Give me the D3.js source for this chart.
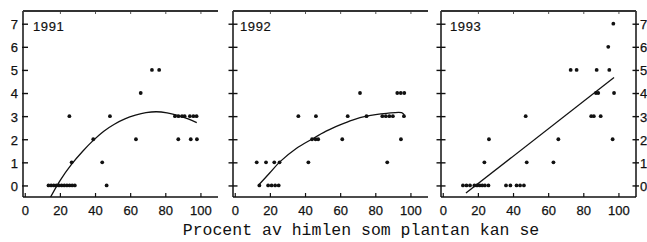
<!DOCTYPE html>
<html><head><meta charset="utf-8">
<script src="https://cdn.jsdelivr.net/npm/d3@7/dist/d3.min.js"></script>
<style>
html,body{margin:0;padding:0;background:#fff;}
svg{display:block;}
.tk text{font-family:"Liberation Sans",Arial,sans-serif;font-size:13px;fill:#111;stroke:#111;stroke-width:0.25;}
</style></head><body>
<svg id="c" width="647" height="242"></svg>
<script>
const years = ["1991", "1992", "1993"];
const xTicks = [0, 20, 40, 60, 80, 100];
const yTicks = [0, 1, 2, 3, 4, 5, 6, 7];
const xLabel = "Procent av himlen som plantan kan se";

const points1991 = [
  [13.5,0],[15,0],[16.5,0],[18,0],[19.5,0],[21,0],[22.5,0],[24,0],[25.5,0],[27,0],[28.5,0],[46.6,0],
  [26.7,1],[44.1,1],
  [39,2],[63.3,2],[87.4,2],[94.5,2],[98,2],
  [25.4,3],[48.5,3],[85.5,3],[87.5,3],[89.5,3],[91,3],[94,3],[96,3],[97.8,3],
  [66,4],
  [72.4,5],[76.5,5]
];
const curve1991 = [[14,-0.6],[20,0.2],[26.7,0.92],[33,1.48],[39,1.95],[45,2.35],[51,2.65],[57,2.88],[63,3.04],[69,3.15],[75,3.19],[81,3.14],[87,3.03],[93,2.88],[97.9,2.72]];

const points1992 = [
  [14,0],[19,0],[21,0],[23,0],[25,0],
  [12.5,1],[17.8,1],[22.5,1],[25.5,1],[41.9,1],[86.8,1],
  [44,2],[46,2],[47.5,2],[61.2,2],[94.6,2],
  [36.2,3],[46.2,3],[64.3,3],[75,3],[84,3],[86,3],[88,3],[90,3],[96.3,3],
  [71.3,4],[92.5,4],[94.5,4],[96.5,4]
];
const curve1992 = [[14,0.05],[20,0.55],[25.8,1.03],[35,1.6],[43.8,2.0],[52,2.35],[59.9,2.62],[67,2.83],[75,3.0],[86.5,3.12],[95,3.15],[96.5,3.05]];

const points1993 = [
  [11.5,0],[13.5,0],[15.5,0],[18,0],[19.5,0],[21,0],[22.5,0],[24,0],[26,0],[36,0],[38.5,0],[42,0],[44,0],[46.2,0],
  [23.7,1],[47.8,1],[63,1],
  [26.3,2],[65.8,2],[96.7,2],
  [47.2,3],[84.5,3],[86,3],[89.9,3],
  [87.2,4],[88.5,4],[97.5,4],
  [72.8,5],[76.2,5],[87.6,5],[94.8,5],
  [94.2,6],
  [97.1,7]
];
const line1993 = [[13.2,-0.33],[97.5,4.67]];

const panels = [
  {year: years[0], pts: points1991, fit: curve1991, left: 23, yl: 10},
  {year: years[1], pts: points1992, fit: curve1992, left: 233, yl: 7},
  {year: years[2], pts: points1993, fit: line1993, left: 441, yl: 9}
];

const svg = d3.select("#c");
const plotTop = 11, plotBottom = 197, pw = 195;
const font = '"Liberation Sans",Arial,sans-serif';

panels.forEach((p, i) => {
  const L = p.left, R = L + pw;
  const x = d3.scaleLinear().domain([-1, 110]).range([L, R]);
  const y = d3.scaleLinear().domain([-0.5, 7.55]).range([plotBottom, plotTop]);
  const g = svg.append("g");

  const clipId = "clip" + i;
  svg.append("clipPath").attr("id", clipId).append("rect")
    .attr("x", L).attr("y", plotTop).attr("width", pw).attr("height", plotBottom - plotTop);

  const bx = g.append("g").attr("class", "tk").attr("transform", `translate(0,${plotBottom})`)
    .call(d3.axisBottom(x).tickValues(xTicks).tickSizeInner(-4).tickSizeOuter(0).tickPadding(9));
  bx.select(".domain").remove();
  bx.selectAll(".tick line").attr("stroke", "#111").attr("stroke-width", 1.2);

  const tx = g.append("g").attr("class", "tk").attr("transform", `translate(0,${plotTop})`)
    .call(d3.axisTop(x).tickValues(xTicks.slice(1)).tickSizeInner(-3).tickSizeOuter(0).tickFormat(""));
  tx.select(".domain").remove();
  tx.selectAll(".tick line").attr("stroke", "#555").attr("stroke-width", 1);

  const lx = g.append("g").attr("class", "tk").attr("transform", `translate(${L},0)`)
    .call(d3.axisLeft(y).tickValues(yTicks).tickSizeOuter(0).tickSizeInner(0).tickPadding(5)
      .tickFormat(i === 0 ? d3.format("d") : ""));
  lx.select(".domain").remove();
  lx.selectAll(".tick line").attr("stroke", "#111").attr("stroke-width", 1.4)
    .attr("x1", i === 0 ? -1 : -4.5).attr("x2", i === 0 ? 5 : 4.5);
  lx.selectAll(".tick text").attr("text-anchor", "end").attr("dy", "0.38em");

  if (i === 2) {
    const rx = g.append("g").attr("class", "tk").attr("transform", `translate(${R},0)`)
      .call(d3.axisRight(y).tickValues(yTicks).tickSizeOuter(0).tickSizeInner(0).tickPadding(4)
        .tickFormat(d3.format("d")));
    rx.select(".domain").remove();
    rx.selectAll(".tick line").attr("stroke", "#111").attr("stroke-width", 1.4)
      .attr("x1", -3.5).attr("x2", 3);
    rx.selectAll(".tick text").attr("dy", "0.38em");
    g.append("line").attr("x1", R).attr("x2", R).attr("y1", plotTop).attr("y2", plotBottom)
      .attr("stroke", "#111").attr("stroke-width", 1.5);
  }

  g.append("line").attr("x1", L).attr("x2", L).attr("y1", plotTop).attr("y2", plotBottom)
    .attr("stroke", "#111").attr("stroke-width", 1.5);
  g.append("line").attr("x1", L).attr("x2", R).attr("y1", plotBottom).attr("y2", plotBottom)
    .attr("stroke", "#111").attr("stroke-width", 1.5);
  g.append("line").attr("x1", L).attr("x2", R).attr("y1", plotTop).attr("y2", plotTop)
    .attr("stroke", "#333").attr("stroke-width", 2);

  g.append("text").attr("x", L + p.yl).attr("y", 30.5).text(p.year)
    .attr("font-family", font).attr("font-size", 13).attr("letter-spacing", 0.6)
    .attr("fill", "#111").attr("stroke", "#111").attr("stroke-width", 0.2);

  const lineGen = d3.line().x(d => x(d[0])).y(d => y(d[1])).curve(d3.curveCatmullRom);
  g.append("path").datum(p.fit).attr("d", lineGen).attr("clip-path", `url(#${clipId})`)
    .attr("fill", "none").attr("stroke", "#111").attr("stroke-width", 1.3);

  g.selectAll("circle.pt").data(p.pts).join("circle").attr("class", "pt")
    .attr("cx", d => x(d[0])).attr("cy", d => y(d[1])).attr("r", 1.9).attr("fill", "#111");
});

svg.append("text").attr("x", 361).attr("y", 235).attr("text-anchor", "middle")
  .attr("font-family", '"Liberation Mono","Courier New",monospace').attr("font-size", 16.5)
  .attr("fill", "#111").text(xLabel);
</script>
</body></html>
